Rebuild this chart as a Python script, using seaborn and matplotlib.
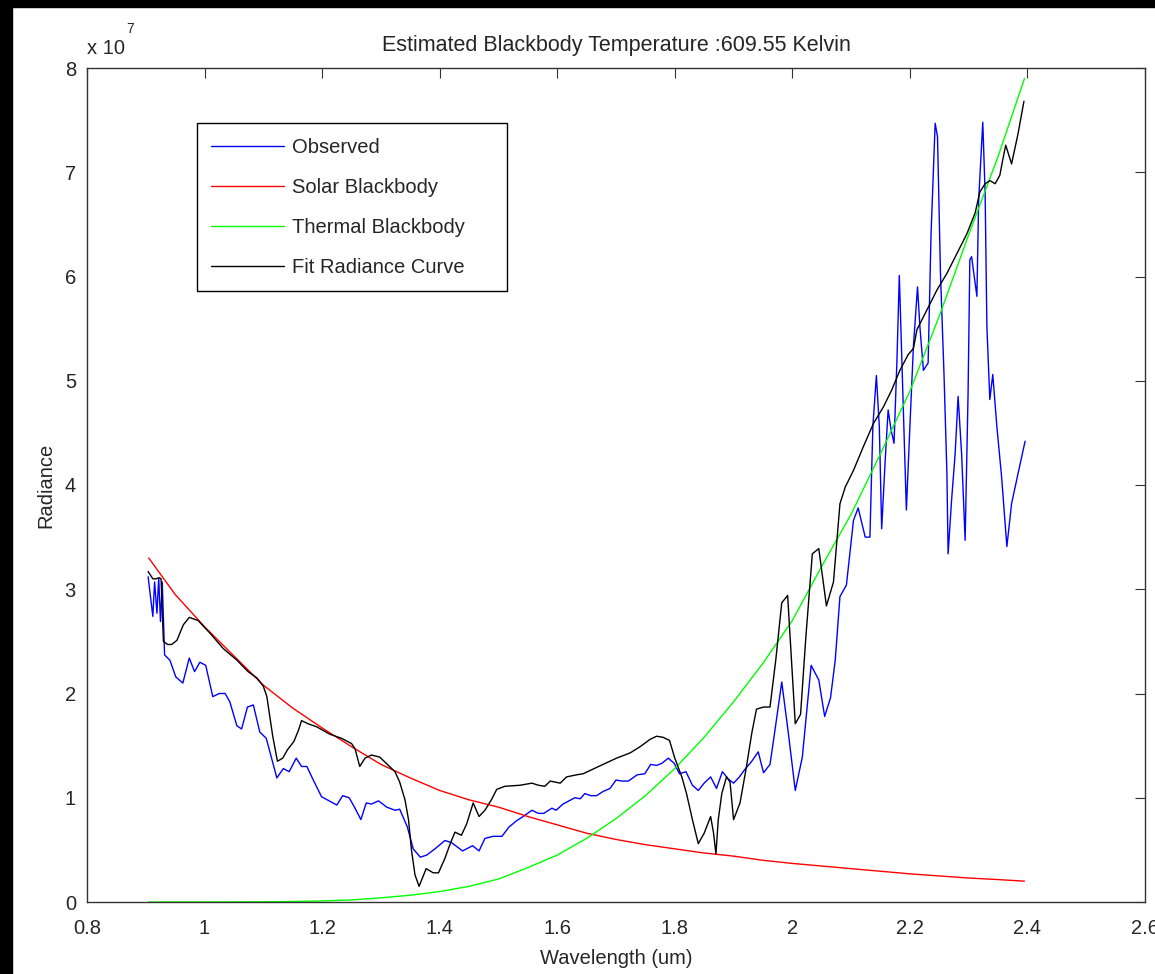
import numpy as np
import pandas as pd
import seaborn as sns
import matplotlib.pyplot as plt
from matplotlib.ticker import FuncFormatter
from matplotlib.patches import Rectangle

# radiance values are in units of 1e7
SCALE = 1e7

# observed spectrum (blue)
wl_obs = [0.904, 0.912, 0.915, 0.919, 0.922, 0.925, 0.928, 0.932, 0.941, 0.951, 0.963, 0.974,
          0.983, 0.992, 1.002, 1.014, 1.025, 1.035, 1.043, 1.055, 1.063, 1.073, 1.083, 1.094,
          1.105, 1.123, 1.134, 1.144, 1.156, 1.165, 1.174, 1.185, 1.199, 1.212, 1.225, 1.235,
          1.246, 1.256, 1.266, 1.275, 1.284, 1.296, 1.310, 1.324, 1.332, 1.345, 1.355, 1.367,
          1.378, 1.392, 1.409, 1.420, 1.439, 1.456, 1.467, 1.477, 1.491, 1.506, 1.518, 1.531,
          1.542, 1.557, 1.568, 1.577, 1.591, 1.598, 1.610, 1.630, 1.639, 1.647, 1.657, 1.667,
          1.678, 1.690, 1.700, 1.710, 1.721, 1.736, 1.749, 1.759, 1.769, 1.778, 1.789, 1.799,
          1.808, 1.819, 1.830, 1.840, 1.850, 1.861, 1.871, 1.881, 1.891, 1.900, 1.910, 1.919,
          1.931, 1.942, 1.951, 1.962, 1.969, 1.982, 1.993, 2.005, 2.017, 2.032, 2.045, 2.055,
          2.065, 2.073, 2.081, 2.092, 2.104, 2.112, 2.124, 2.132, 2.137, 2.143, 2.148, 2.152,
          2.158, 2.163, 2.168, 2.173, 2.178, 2.182, 2.188, 2.194, 2.200, 2.206, 2.213, 2.217,
          2.223, 2.231, 2.236, 2.243, 2.247, 2.252, 2.258, 2.263, 2.265, 2.271, 2.277, 2.282,
          2.288, 2.294, 2.299, 2.302, 2.305, 2.314, 2.317, 2.324, 2.328, 2.331, 2.336, 2.341,
          2.348, 2.356, 2.365, 2.373, 2.384, 2.396]
rad_obs = [3.12, 2.74, 3.07, 2.77, 3.11, 2.69, 3.07, 2.37, 2.32, 2.16, 2.10, 2.34,
           2.21, 2.30, 2.27, 1.97, 2.00, 2.00, 1.92, 1.69, 1.66, 1.87, 1.89, 1.63,
           1.57, 1.19, 1.28, 1.25, 1.38, 1.30, 1.30, 1.17, 1.01, 0.97, 0.93, 1.02,
           1.00, 0.90, 0.79, 0.95, 0.94, 0.97, 0.91, 0.88, 0.89, 0.72, 0.51, 0.43,
           0.45, 0.51, 0.59, 0.57, 0.49, 0.54, 0.49, 0.61, 0.63, 0.63, 0.72, 0.78,
           0.82, 0.88, 0.85, 0.85, 0.90, 0.88, 0.94, 1.00, 0.99, 1.04, 1.02, 1.02,
           1.06, 1.09, 1.17, 1.16, 1.16, 1.22, 1.23, 1.32, 1.31, 1.33, 1.38, 1.33,
           1.23, 1.25, 1.12, 1.07, 1.14, 1.20, 1.09, 1.25, 1.18, 1.14, 1.20, 1.27,
           1.35, 1.44, 1.24, 1.32, 1.59, 2.11, 1.63, 1.07, 1.39, 2.27, 2.13, 1.78,
           1.96, 2.32, 2.93, 3.04, 3.66, 3.78, 3.50, 3.50, 4.56, 5.05, 4.56, 3.58,
           4.24, 4.72, 4.53, 4.40, 5.20, 6.01, 4.88, 3.76, 4.56, 5.33, 5.90, 5.52,
           5.10, 5.17, 6.41, 7.47, 7.34, 6.03, 5.07, 4.11, 3.34, 3.86, 4.30, 4.85,
           4.30, 3.47, 4.88, 6.16, 6.19, 5.81, 6.73, 7.48, 6.80, 5.52, 4.82, 5.06,
           4.56, 4.08, 3.41, 3.82, 4.11, 4.42]

# fitted radiance (black)
wl_fit = [0.904, 0.912, 0.917, 0.923, 0.926, 0.930, 0.937, 0.944, 0.953, 0.964, 0.974, 0.989,
          1.009, 1.032, 1.055, 1.074, 1.089, 1.100, 1.106, 1.116, 1.124, 1.133, 1.141, 1.152,
          1.160, 1.165, 1.176, 1.191, 1.213, 1.233, 1.250, 1.256, 1.264, 1.273, 1.284, 1.298,
          1.313, 1.324, 1.332, 1.341, 1.347, 1.352, 1.358, 1.365, 1.377, 1.389, 1.398, 1.409,
          1.418, 1.426, 1.437, 1.446, 1.457, 1.467, 1.477, 1.489, 1.497, 1.511, 1.537, 1.557,
          1.568, 1.579, 1.588, 1.605, 1.616, 1.633, 1.644, 1.659, 1.678, 1.701, 1.724, 1.741,
          1.758, 1.769, 1.780, 1.791, 1.800, 1.812, 1.820, 1.830, 1.840, 1.850, 1.861, 1.866,
          1.870, 1.874, 1.880, 1.888, 1.894, 1.900, 1.911, 1.922, 1.931, 1.939, 1.951, 1.962,
          1.972, 1.982, 1.992, 1.999, 2.005, 2.014, 2.023, 2.034, 2.045, 2.058, 2.070, 2.081,
          2.090, 2.104, 2.121, 2.138, 2.155, 2.169, 2.183, 2.197, 2.206, 2.212, 2.229, 2.246,
          2.263, 2.280, 2.297, 2.311, 2.319, 2.328, 2.336, 2.345, 2.353, 2.358, 2.363, 2.373,
          2.384, 2.394]
rad_fit = [3.17, 3.10, 3.10, 3.11, 3.10, 2.50, 2.47, 2.47, 2.51, 2.66, 2.73, 2.70,
           2.58, 2.43, 2.32, 2.21, 2.15, 2.07, 1.97, 1.59, 1.35, 1.38, 1.46, 1.54,
           1.65, 1.74, 1.71, 1.68, 1.61, 1.57, 1.52, 1.47, 1.30, 1.38, 1.41, 1.39,
           1.31, 1.25, 1.15, 0.98, 0.79, 0.50, 0.26, 0.15, 0.32, 0.28, 0.28, 0.42,
           0.56, 0.67, 0.64, 0.75, 0.95, 0.82, 0.88, 0.99, 1.08, 1.11, 1.12, 1.14,
           1.12, 1.11, 1.16, 1.14, 1.20, 1.22, 1.23, 1.27, 1.32, 1.38, 1.43, 1.49,
           1.56, 1.59, 1.58, 1.55, 1.38, 1.20, 1.04, 0.79, 0.56, 0.66, 0.82, 0.66,
           0.46, 0.79, 1.04, 1.20, 1.15, 0.79, 0.95, 1.30, 1.62, 1.85, 1.87, 1.87,
           2.33, 2.87, 2.94, 2.27, 1.71, 1.80, 2.54, 3.34, 3.39, 2.84, 3.07, 3.82,
           3.98, 4.14, 4.37, 4.59, 4.75, 4.91, 5.10, 5.25, 5.31, 5.49, 5.68, 5.87,
           6.03, 6.22, 6.41, 6.61, 6.81, 6.89, 6.92, 6.89, 6.97, 7.12, 7.26, 7.08,
           7.37, 7.68]

# blackbody curves (red / green)
wl_bb = [0.905, 0.95, 1.0, 1.05, 1.1, 1.15, 1.2, 1.25, 1.3, 1.35, 1.4, 1.45, 1.5, 1.55,
         1.6, 1.65, 1.7, 1.75, 1.8, 1.85, 1.9, 1.95, 2.0, 2.05, 2.1, 2.15, 2.2, 2.25,
         2.3, 2.35, 2.395]
rad_solar = [3.30, 2.95, 2.64, 2.36, 2.08, 1.86, 1.67, 1.49, 1.32, 1.19, 1.07, 0.98, 0.91, 0.82,
             0.74, 0.66, 0.60, 0.55, 0.51, 0.47, 0.44, 0.40, 0.37, 0.345, 0.32, 0.295, 0.27, 0.25,
             0.23, 0.215, 0.20]
rad_thermal = [0.0, 0.0, 0.0, 0.001, 0.002, 0.005, 0.01, 0.02, 0.04, 0.065, 0.10, 0.15, 0.22, 0.33,
               0.45, 0.61, 0.80, 1.02, 1.28, 1.58, 1.92, 2.29, 2.70, 3.22, 3.72, 4.30, 4.90, 5.62,
               6.40, 7.15, 7.90]

x_ticks = [0.8, 1, 1.2, 1.4, 1.6, 1.8, 2, 2.2, 2.4, 2.6]
y_ticks = [0, 1, 2, 3, 4, 5, 6, 7, 8]

df_obs = pd.DataFrame({'wl': wl_obs, 'rad': np.array(rad_obs) * SCALE})
df_fit = pd.DataFrame({'wl': wl_fit, 'rad': np.array(rad_fit) * SCALE})
df_bb = pd.DataFrame({'wl': wl_bb,
                      'solar': np.array(rad_solar) * SCALE,
                      'thermal': np.array(rad_thermal) * SCALE})

sns.set_style('white')
plt.rcParams['font.family'] = ['Liberation Sans', 'DejaVu Sans']

fig = plt.figure(figsize=(11.55, 9.74), dpi=100, facecolor='white')
ax = fig.add_axes([87 / 1155, 72 / 974, 1058 / 1155, 834 / 974])

lw = 1.0
sns.lineplot(data=df_obs, x='wl', y='rad', color='#0000ff', lw=lw, sort=False, estimator=None,
             label='Observed', ax=ax)
sns.lineplot(data=df_bb, x='wl', y='solar', color='#ff0000', lw=lw, sort=False, estimator=None,
             label='Solar Blackbody', ax=ax)
sns.lineplot(data=df_bb, x='wl', y='thermal', color='#00ff00', lw=lw, sort=False, estimator=None,
             label='Thermal Blackbody', ax=ax)
sns.lineplot(data=df_fit, x='wl', y='rad', color='black', lw=lw, sort=False, estimator=None,
             label='Fit Radiance Curve', ax=ax)

ax.set_xlim(0.8, 2.6)
ax.set_ylim(0, 8 * SCALE)
ax.set_xticks(x_ticks)
ax.set_yticks([v * SCALE for v in y_ticks])
ax.xaxis.set_major_formatter(FuncFormatter(lambda v, pos: f'{v:g}'))
ax.yaxis.set_major_formatter(FuncFormatter(lambda v, pos: f'{v / SCALE:g}'))
ax.tick_params(direction='in', length=7.5, width=0.8, top=True, right=True,
               labelsize=14.5, color='#333333')
ax.tick_params(axis='x', pad=12)
ax.tick_params(axis='y', pad=8)
for s in ax.spines.values():
    s.set_color('#333333')
    s.set_linewidth(1.0)

ax.set_title('Estimated Blackbody Temperature :609.55 Kelvin', fontsize=15.5, pad=12)
ax.set_xlabel('Wavelength (um)', fontsize=14.5, labelpad=8)
ax.set_ylabel('Radiance', fontsize=14.5, labelpad=7)

# MATLAB style exponent label
ax.text(0.0, 1.012, 'x 10', transform=ax.transAxes, fontsize=14.5, ha='left', va='bottom')
ax.text(0.037, 1.038, '7', transform=ax.transAxes, fontsize=10, ha='left', va='bottom')

leg = ax.legend(loc='upper left', bbox_to_anchor=(0.1037, 0.7358, 0.293, 0.1978),
                mode='expand', borderaxespad=0, fontsize=14.5, handlelength=3.6,
                handletextpad=0.4, labelspacing=1.04, borderpad=0.72,
                fancybox=False, framealpha=1)
leg.get_frame().set_edgecolor('black')
leg.get_frame().set_linewidth(1.0)

# black border of the screenshot
fig.patches.append(Rectangle((0, 967 / 974), 1, 7 / 974, transform=fig.transFigure,
                             color='black', zorder=10))
fig.patches.append(Rectangle((0, 0), 12 / 1155, 1, transform=fig.transFigure,
                             color='black', zorder=10))

fig.savefig('out.png', dpi=100, facecolor='white')
